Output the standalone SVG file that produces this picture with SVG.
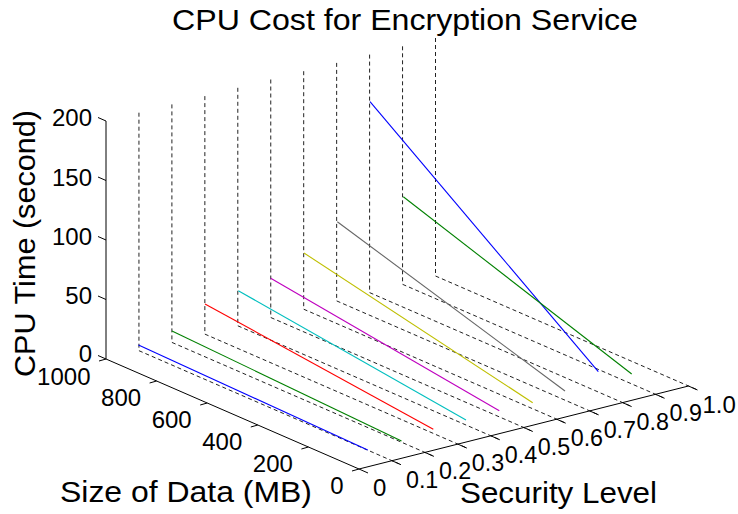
<svg xmlns="http://www.w3.org/2000/svg" width="738" height="514" viewBox="0 0 738 514">
  <style>
    .axis { stroke: #000; stroke-width: 1; fill: none; }
    .drop { stroke: #222; stroke-width: 1; fill: none; stroke-dasharray: 4 3; }
    .curve { stroke-width: 1.1; fill: none; }
    text { font-family: "Liberation Sans", Arial, sans-serif; fill: #000; }
    .tick { font-size: 24px; }
    .label { font-size: 30px; }
  </style>
  <rect width="738" height="514" fill="#fff"/>

  <!-- title -->
  <text class="label" x="405" y="30" text-anchor="middle" textLength="466" lengthAdjust="spacingAndGlyphs">CPU Cost for Encryption Service</text>

  <!-- dashed stems at the back wall (d = 1000) and their floor traces (z = 0) -->
  <g id="stems">
    <path class="drop" d="M138.95,112.7 V350.7 L400.95,464.6"/>
    <path class="drop" d="M171.9,104.4 V342.4 L433.9,456.3"/>
    <path class="drop" d="M204.85,96.1 V334.1 L466.85,448.0"/>
    <path class="drop" d="M237.8,87.8 V325.8 L499.8,439.7"/>
    <path class="drop" d="M270.75,79.5 V317.5 L532.75,431.4"/>
    <path class="drop" d="M303.7,71.2 V309.2 L565.7,423.1"/>
    <path class="drop" d="M336.65,62.9 V300.9 L598.65,414.8"/>
    <path class="drop" d="M369.6,54.6 V292.6 L631.6,406.5"/>
    <path class="drop" d="M402.55,46.3 V284.3 L664.55,398.2"/>
    <path class="drop" d="M435.5,38.0 V276.0 L697.5,389.9"/>
  </g>

  <!-- CPU time curves, one per security level -->
  <g id="curves">
    <path class="curve" stroke="#0000ff" d="M138.5,345 L367.7,450"/>
    <path class="curve" stroke="#008000" d="M172,331 L401.5,441"/>
    <path class="curve" stroke="#ff0000" d="M205,304 L433.3,429.3"/>
    <path class="curve" stroke="#00bfbf" d="M238.3,290.7 L466,420"/>
    <path class="curve" stroke="#bf00bf" d="M270.7,278.3 L499.3,410.7"/>
    <path class="curve" stroke="#bfbf00" d="M304,253 L532.7,402.7"/>
    <path class="curve" stroke="#666666" d="M337.3,221.7 L565,391"/>
    <path class="curve" stroke="#0000ff" d="M370,101.7 L598.3,371.7"/>
    <path class="curve" stroke="#008000" d="M403.3,196.7 L631.7,374"/>
  </g>

  <!-- axes -->
  <g id="axes">
    <path class="axis" d="M106,121 V359 L359,469 L688.5,386"/>
    <!-- z ticks -->
    <path class="axis" d="M106,359 l-8,-3.5 M106,299.5 l-8,-3.5 M106,240 l-8,-3.5 M106,180.5 l-8,-3.5 M106,121 l-8,-3.5"/>
    <!-- data-size ticks -->
    <path class="axis" d="M359,469 l-7,2 M308.4,447 l-7,2 M257.8,425 l-7,2 M207.2,403 l-7,2 M156.6,381 l-7,2 M106,359 l-7,2"/>
    <!-- security-level ticks -->
    <path class="axis" d="M359,469 l9,4 M391.95,460.7 l9,4 M424.9,452.4 l9,4 M457.85,444.1 l9,4 M490.8,435.8 l9,4 M523.75,427.5 l9,4 M556.7,419.2 l9,4 M589.65,410.9 l9,4 M622.6,402.6 l9,4 M655.55,394.3 l9,4 M688.5,386 l9,4"/>
  </g>

  <!-- tick labels -->
  <g id="z-ticklabels" text-anchor="end">
    <text class="tick" x="92" y="362">0</text>
    <text class="tick" x="92" y="304">50</text>
    <text class="tick" x="92" y="245">100</text>
    <text class="tick" x="92" y="185.5">150</text>
    <text class="tick" x="92" y="126">200</text>
  </g>
  <g id="d-ticklabels" text-anchor="end">
    <text class="tick" x="343.5" y="494">0</text>
    <text class="tick" x="292.9" y="472">200</text>
    <text class="tick" x="242.3" y="450">400</text>
    <text class="tick" x="191.7" y="428">600</text>
    <text class="tick" x="141.1" y="406">800</text>
    <text class="tick" x="90.5" y="385">1000</text>
  </g>
  <g id="s-ticklabels" text-anchor="start">
    <text class="tick" x="373" y="496">0</text>
    <text class="tick" x="405.95" y="487.7" textLength="32.4" lengthAdjust="spacingAndGlyphs">0.1</text>
    <text class="tick" x="438.9" y="479.4" textLength="32.4" lengthAdjust="spacingAndGlyphs">0.2</text>
    <text class="tick" x="471.85" y="471.1" textLength="32.4" lengthAdjust="spacingAndGlyphs">0.3</text>
    <text class="tick" x="504.8" y="462.8" textLength="32.4" lengthAdjust="spacingAndGlyphs">0.4</text>
    <text class="tick" x="537.75" y="454.5" textLength="32.4" lengthAdjust="spacingAndGlyphs">0.5</text>
    <text class="tick" x="570.7" y="446.2" textLength="32.4" lengthAdjust="spacingAndGlyphs">0.6</text>
    <text class="tick" x="603.65" y="437.9" textLength="32.4" lengthAdjust="spacingAndGlyphs">0.7</text>
    <text class="tick" x="636.6" y="429.6" textLength="32.4" lengthAdjust="spacingAndGlyphs">0.8</text>
    <text class="tick" x="669.55" y="421.3" textLength="32.4" lengthAdjust="spacingAndGlyphs">0.9</text>
    <text class="tick" x="702.5" y="413" textLength="33.4" lengthAdjust="spacingAndGlyphs">1.0</text>
  </g>

  <!-- axis titles -->
  <text class="label" transform="translate(35,243.5) rotate(-90)" text-anchor="middle" textLength="267" lengthAdjust="spacingAndGlyphs">CPU Time (second)</text>
  <text class="label" x="186" y="502" text-anchor="middle" textLength="252" lengthAdjust="spacingAndGlyphs">Size of Data (MB)</text>
  <text class="label" x="558.5" y="503" text-anchor="middle" textLength="197" lengthAdjust="spacingAndGlyphs">Security Level</text>
</svg>
